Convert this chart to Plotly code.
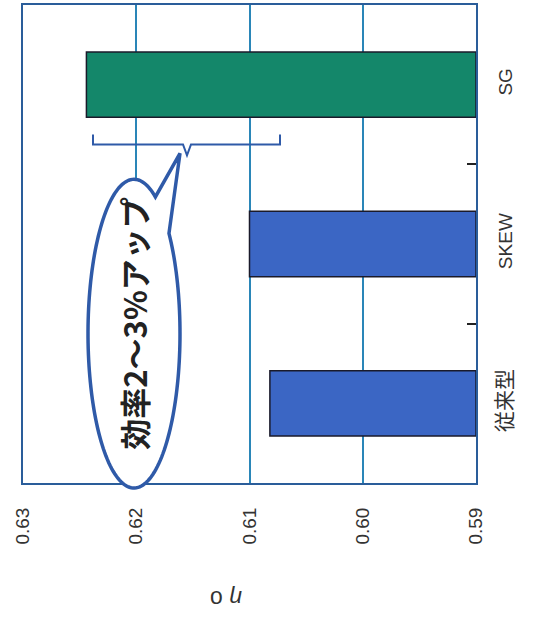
import numpy as np
import plotly.graph_objects as go

# Data
categories = ["従来型", "SKEW", "SG"]
category_labels = ["<span style='font-size:21px'>従来型</span>", "SKEW", "SG"]
efficiency = [0.6082, 0.6100, 0.6244]
bar_colors = ["#3b66c4", "#3b66c4", "#14876a"]
x_ticks = [0.59, 0.60, 0.61, 0.62, 0.63]
x_tick_labels = ["0.59", "0.60", "0.61", "0.62", "0.63"]
callout_text = "効率2～3%アップ"
axis_title = "<i>η</i> o"

BASE = 0.59
W, H = 547, 619
L, R, T, B = 23, 476, 3, 483  # plot area in pixels

def px(x):
    return (x - L) / (R - L)

def py(y):
    return (B - y) / (B - T)

sans = "Liberation Sans, Arial, Noto Sans CJK JP, sans-serif"
frame = "#2a5d9a"

fig = go.Figure(
    go.Bar(
        x=[v - BASE for v in efficiency],
        y=categories,
        orientation="h",
        base=BASE,
        width=0.41,
        marker=dict(color=bar_colors, line=dict(color="#1a1a2a", width=1.5)),
        hoverinfo="skip",
    )
)

fig.update_xaxes(
    range=[0.63, 0.59],
    tickvals=x_ticks,
    ticktext=x_tick_labels,
    tickangle=-90,
    tickfont=dict(family=sans, size=19, color="#333"),
    ticklabelstandoff=15,
    showgrid=True,
    gridcolor="#2a86b8",
    gridwidth=1.5,
    zeroline=False,
    showline=True,
    mirror=True,
    linecolor=frame,
    linewidth=2,
    ticks="",
)
fig.update_yaxes(
    categoryorder="array",
    categoryarray=categories,
    tickvals=categories,
    ticktext=category_labels,
    range=[-0.5, 2.5],
    side="right",
    tickangle=-90,
    tickfont=dict(family=sans, size=19, color="#333"),
    ticks="inside",
    tickson="boundaries",
    ticklen=9,
    tickwidth=1.5,
    tickcolor="#222",
    ticklabelstandoff=11,
    showgrid=False,
    zeroline=False,
    showline=True,
    mirror=True,
    linecolor=frame,
    linewidth=2,
)

# Brace above the two blue bars
brace = [(93, 133), (93, 143), (183, 143), (187, 154), (191, 143), (280, 143), (280, 133)]
brace_path = "M " + " L ".join(f"{px(x):.5f},{py(y):.5f}" for x, y in brace)

# Speech bubble: ellipse with a pointed tail toward the brace
cx, cy, a, b = 134, 333, 46, 155
t = np.radians(np.linspace(-40.5, 297.7, 160))
pts = [(cx + a * np.cos(v), cy + b * np.sin(v)) for v in t]
pts.append((180, 152))
bubble_path = "M " + " L ".join(f"{px(x):.5f},{py(y):.5f}" for x, y in pts) + " Z"

fig.update_layout(
    width=W,
    height=H,
    margin=dict(l=L, r=W - R, t=T, b=H - B),
    paper_bgcolor="white",
    plot_bgcolor="white",
    showlegend=False,
    shapes=[
        dict(type="path", xref="paper", yref="paper", path=brace_path,
             line=dict(color="#2f5aa8", width=2), layer="above"),
        dict(type="path", xref="paper", yref="paper", path=bubble_path,
             fillcolor="white", line=dict(color="#2f5aa8", width=3.5), layer="above"),
    ],
    annotations=[
        dict(text=callout_text, xref="paper", yref="paper",
             x=px(134), y=py(323), xanchor="center", yanchor="middle",
             showarrow=False, textangle=-90,
             font=dict(family="Noto Sans CJK JP, sans-serif", size=31, color="#222", weight="bold")),
        dict(text=axis_title, xref="paper", yref="paper",
             x=px(226), y=py(600), xanchor="center", yanchor="middle",
             showarrow=False, textangle=180,
             font=dict(family="Liberation Sans, Arial, sans-serif", size=23, color="#333")),
    ],
)

fig.write_html("out.html")
